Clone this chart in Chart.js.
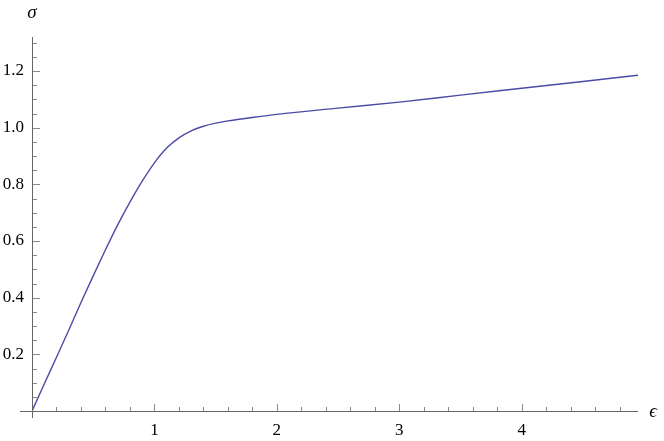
<!DOCTYPE html>
<html lang="en">
<head>
    <meta charset="UTF-8">
    <title>Stress-strain curve</title>
    <script src="https://cdn.jsdelivr.net/npm/chart.js"></script>
    <style>
        body {
            margin: 0;
            padding: 0;
            background-color: #ffffff;
        }
        canvas {
            display: block;
        }
    </style>
</head>
<body>
    <canvas id="curveChart" width="664" height="441"></canvas>

    <script>
        // Values
        const strain = [0, 0.1, 0.2, 0.3, 0.4, 0.5, 0.6, 0.7, 0.8, 0.9, 1.0, 1.1, 1.2, 1.3, 1.4, 1.5, 1.6, 1.8, 2.0, 2.5, 3.0, 3.5, 4.0, 4.5, 4.95];
        const stress = [0, 0.095, 0.19, 0.285, 0.383, 0.477, 0.569, 0.657, 0.737, 0.811, 0.876, 0.928, 0.964, 0.989, 1.005, 1.016, 1.024, 1.036, 1.047, 1.069, 1.090, 1.115, 1.139, 1.163, 1.185];

        const xLabels = [1, 2, 3, 4];
        const yLabels = [0.2, 0.4, 0.6, 0.8, 1.0, 1.2];

        const xMax = 4.95;
        const yMax = 1.32;

        const points = strain.map((e, i) => ({ x: e, y: stress[i] }));

        const serif = "'Liberation Serif', 'Times New Roman', serif";

        // Mathematica-style axes: ticks pointing inward, minor ticks, symbol labels
        const axesPlugin = {
            id: 'mmaAxes',
            afterDraw(chart) {
                const ctx = chart.ctx;
                const xs = chart.scales.x;
                const ys = chart.scales.y;
                const x0 = xs.getPixelForValue(0);
                const y0 = ys.getPixelForValue(0);
                const area = chart.chartArea;

                ctx.save();
                ctx.strokeStyle = '#666';
                ctx.lineWidth = 1;
                ctx.beginPath();
                ctx.moveTo(x0 - 12, y0 + 0.5);
                ctx.lineTo(area.right, y0 + 0.5);
                ctx.moveTo(x0 + 0.5, area.top);
                ctx.lineTo(x0 + 0.5, y0 + 7);
                ctx.stroke();

                ctx.strokeStyle = '#888';
                ctx.beginPath();
                for (let k = 1; k * 0.2 <= xMax; k++) {
                    const px = Math.round(xs.getPixelForValue(k * 0.2)) + 0.5;
                    const len = k % 5 === 0 ? 7 : 4;
                    ctx.moveTo(px, y0);
                    ctx.lineTo(px, y0 - len);
                }
                for (let k = 1; k * 0.05 <= yMax; k++) {
                    const py = Math.round(ys.getPixelForValue(k * 0.05)) + 0.5;
                    const len = k % 4 === 0 ? 7 : 4;
                    ctx.moveTo(x0 + 1, py);
                    ctx.lineTo(x0 + 1 + len, py);
                }
                ctx.stroke();

                ctx.fillStyle = '#000';
                ctx.font = 'italic 19px ' + serif;
                ctx.textAlign = 'center';
                ctx.textBaseline = 'middle';
                ctx.fillText('σ', x0, area.top - 24);
                ctx.fillText('ϵ', area.right + 15, y0 + 1);
                ctx.restore();
            }
        };

        const ctx = document.getElementById('curveChart').getContext('2d');
        const curveChart = new Chart(ctx, {
            type: 'line',
            data: {
                datasets: [{
                    data: points,
                    borderColor: '#4b4ba6',
                    borderWidth: 1.4,
                    pointRadius: 0,
                    fill: false,
                    cubicInterpolationMode: 'monotone'
                }]
            },
            options: {
                responsive: false,
                animation: false,
                devicePixelRatio: 1,
                layout: {
                    padding: { top: 37, right: 26, left: 0, bottom: 0 }
                },
                plugins: {
                    legend: { display: false },
                    tooltip: { enabled: false }
                },
                scales: {
                    x: {
                        type: 'linear',
                        min: 0,
                        max: xMax,
                        afterFit: (scale) => { scale.height = 30; },
                        grid: { display: false, drawTicks: false },
                        border: { display: false },
                        ticks: {
                            stepSize: 1,
                            autoSkip: false,
                            maxRotation: 0,
                            padding: 9,
                            color: '#000',
                            font: { family: serif, size: 17 },
                            callback: (v) => xLabels.includes(v) ? String(v) : ''
                        }
                    },
                    y: {
                        type: 'linear',
                        min: 0,
                        max: yMax,
                        afterFit: (scale) => { scale.width = 32; },
                        grid: { display: false, drawTicks: false },
                        border: { display: false },
                        ticks: {
                            stepSize: 0.2,
                            autoSkip: false,
                            padding: 8,
                            color: '#000',
                            font: { family: serif, size: 17 },
                            callback: (v) => {
                                const r = Math.round(v * 10) / 10;
                                return yLabels.includes(r) ? r.toFixed(1) : '';
                            }
                        }
                    }
                }
            },
            plugins: [axesPlugin]
        });
    </script>
</body>
</html>
